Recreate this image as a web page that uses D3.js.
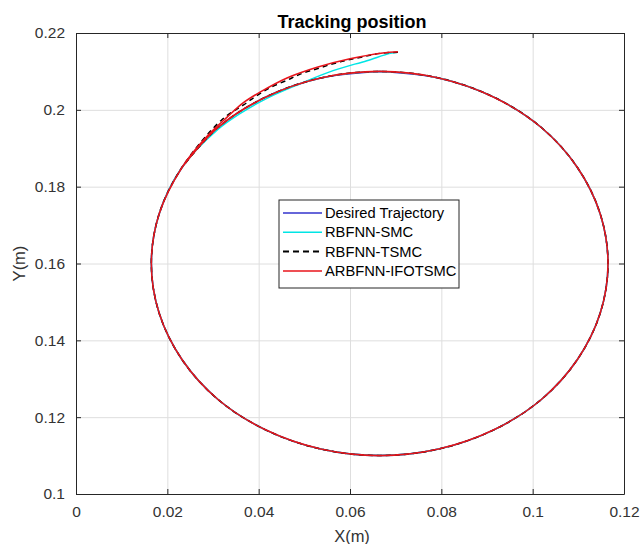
<!DOCTYPE html>
<html>
<head>
<meta charset="utf-8">
<script src="https://cdn.jsdelivr.net/npm/d3@7"></script>
<style>
  body { margin: 0; background: #fff; }
  text { font-family: "Liberation Sans", Arial, sans-serif; }
</style>
</head>
<body>
<svg id="my-svg" width="644" height="544"></svg>
<script>
// desired circle (starting at the top, moving left)
const circleX = [0.0665, 0.0536, 0.0415, 0.0311, 0.0232, 0.0182, 0.0165, 0.0182, 0.0232, 0.0311, 0.0415, 0.0536,
                 0.0665, 0.0794, 0.0915, 0.1019, 0.1098, 0.1148, 0.1165, 0.1148, 0.1098, 0.1019, 0.0915, 0.0794];
const circleY = [0.2100, 0.2083, 0.2033, 0.1954, 0.1850, 0.1729, 0.1600, 0.1471, 0.1350, 0.1246, 0.1167, 0.1117,
                 0.1100, 0.1117, 0.1167, 0.1246, 0.1350, 0.1471, 0.1600, 0.1729, 0.1850, 0.1954, 0.2033, 0.2083];

// start-up part of each controller before it joins the circle
const smcX  = [0.0705, 0.0688, 0.0637, 0.0563, 0.0491, 0.0418, 0.0359, 0.0310];
const smcY  = [0.2150, 0.2147, 0.2128, 0.2102, 0.2068, 0.2030, 0.1990, 0.1948];
const tsmcX = [0.0705, 0.0666, 0.0628, 0.0593, 0.0563, 0.0528, 0.0491, 0.0462, 0.0425, 0.0396, 0.0366, 0.0320];
const tsmcY = [0.2150, 0.2147, 0.2138, 0.2129, 0.2120, 0.2107, 0.2093, 0.2077, 0.2058, 0.2037, 0.2012, 0.1975];
const ifoX  = [0.0705, 0.0672, 0.0600, 0.0528, 0.0462, 0.0403, 0.0366, 0.0331, 0.0290];
const ifoY  = [0.2151, 0.2148, 0.2133, 0.2111, 0.2083, 0.2046, 0.2018, 0.1981, 0.1935];

const xTicks = [0, 0.02, 0.04, 0.06, 0.08, 0.1, 0.12];
const yTicks = [0.1, 0.12, 0.14, 0.16, 0.18, 0.2, 0.22];
const names = ["Desired Trajectory", "RBFNN-SMC", "RBFNN-TSMC", "ARBFNN-IFOTSMC"];
const colors = ["#3333cc", "#00e5e5", "#000000", "#e8141b"];

const svg = d3.select("#my-svg"),
      margin = {top: 33, right: 20, bottom: 50, left: 76},
      W = 548, H = 461;

const g = svg.append("g").attr("transform", `translate(${margin.left},${margin.top})`);

const x = d3.scaleLinear().domain([0, 0.12]).range([0, W]);
const y = d3.scaleLinear().domain([0.1, 0.22]).range([H, 0]);

// grid
g.append("g").attr("transform", `translate(0,${H})`)
  .call(d3.axisBottom(x).tickValues(xTicks).tickSize(-H).tickFormat(""))
  .call(a => a.select(".domain").remove())
  .selectAll("line").attr("stroke", "#dedede");
g.append("g")
  .call(d3.axisLeft(y).tickValues(yTicks).tickSize(-W).tickFormat(""))
  .call(a => a.select(".domain").remove())
  .selectAll("line").attr("stroke", "#dedede");

// build paths: start-up points + circle, looping back past the top
const circlePts = circleX.map((v, i) => [v, circleY[i]]);
function withLoop(xs, ys, joinIdx) {
  const pts = xs.map((v, i) => [v, ys[i]]);
  return pts.concat(circlePts.slice(joinIdx), circlePts.slice(0, joinIdx + 1));
}
const series = [
  circlePts.concat([circlePts[0]]),
  withLoop(smcX, smcY, 4),
  withLoop(tsmcX, tsmcY, 4),
  withLoop(ifoX, ifoY, 4)
];

const line = d3.line().x(d => x(d[0])).y(d => y(d[1])).curve(d3.curveCatmullRom);

g.selectAll("path.trace")
  .data(series)
  .join("path")
  .attr("class", "trace")
  .attr("d", line)
  .attr("fill", "none")
  .attr("stroke", (d, i) => colors[i])
  .attr("stroke-width", (d, i) => i == 3 ? 1.6 : 1.5)
  .attr("stroke-dasharray", (d, i) => i == 2 ? "5,4" : null);

// axes (MATLAB style, ticks inside, box on)
function styleAxis(a) {
  a.select(".domain").attr("stroke", "#262626");
  a.selectAll(".tick line").attr("stroke", "#262626");
  a.selectAll("text").attr("fill", "#333").style("font-size", "15.5px");
}
g.append("g").attr("transform", `translate(0,${H})`)
  .call(d3.axisBottom(x).tickValues(xTicks).tickSizeInner(-5).tickSizeOuter(0).tickPadding(12).tickFormat(d3.format("")))
  .call(styleAxis);
g.append("g")
  .call(d3.axisLeft(y).tickValues(yTicks).tickSizeInner(-5).tickSizeOuter(0).tickPadding(11).tickFormat(d3.format("")))
  .call(styleAxis);
g.append("g")
  .call(d3.axisTop(x).tickValues(xTicks).tickSizeInner(-5).tickSizeOuter(0).tickFormat(""))
  .call(styleAxis);
g.append("g").attr("transform", `translate(${W},0)`)
  .call(d3.axisRight(y).tickValues(yTicks).tickSizeInner(-5).tickSizeOuter(0).tickFormat(""))
  .call(styleAxis);

// title and labels
svg.append("text").attr("x", 352).attr("y", 28)
  .attr("text-anchor", "middle").style("font-size", "18px").style("font-weight", "bold")
  .attr("fill", "#000").text("Tracking position");
svg.append("text").attr("x", 352).attr("y", 542)
  .attr("text-anchor", "middle").style("font-size", "16.5px").attr("fill", "#333").text("X(m)");
svg.append("text").attr("transform", `translate(25,${margin.top + H / 2}) rotate(-90)`)
  .attr("text-anchor", "middle").style("font-size", "16.5px").attr("fill", "#333").text("Y(m)");

// legend
const lg = svg.append("g").attr("transform", "translate(279,200)");
lg.append("rect").attr("width", 180).attr("height", 88)
  .attr("fill", "#fff").attr("stroke", "#262626").attr("stroke-width", 1);
names.forEach((n, i) => {
  const yy = 13 + i * 19.3;
  lg.append("line").attr("x1", 4).attr("x2", 43).attr("y1", yy).attr("y2", yy)
    .attr("stroke", colors[i]).attr("stroke-width", i == 2 ? 2 : 1.5)
    .attr("stroke-dasharray", i == 2 ? "6,4" : null);
  lg.append("text").attr("x", 46).attr("y", yy + 5).style("font-size", "14.7px")
    .attr("fill", "#000").text(n);
});
</script>
</body>
</html>
